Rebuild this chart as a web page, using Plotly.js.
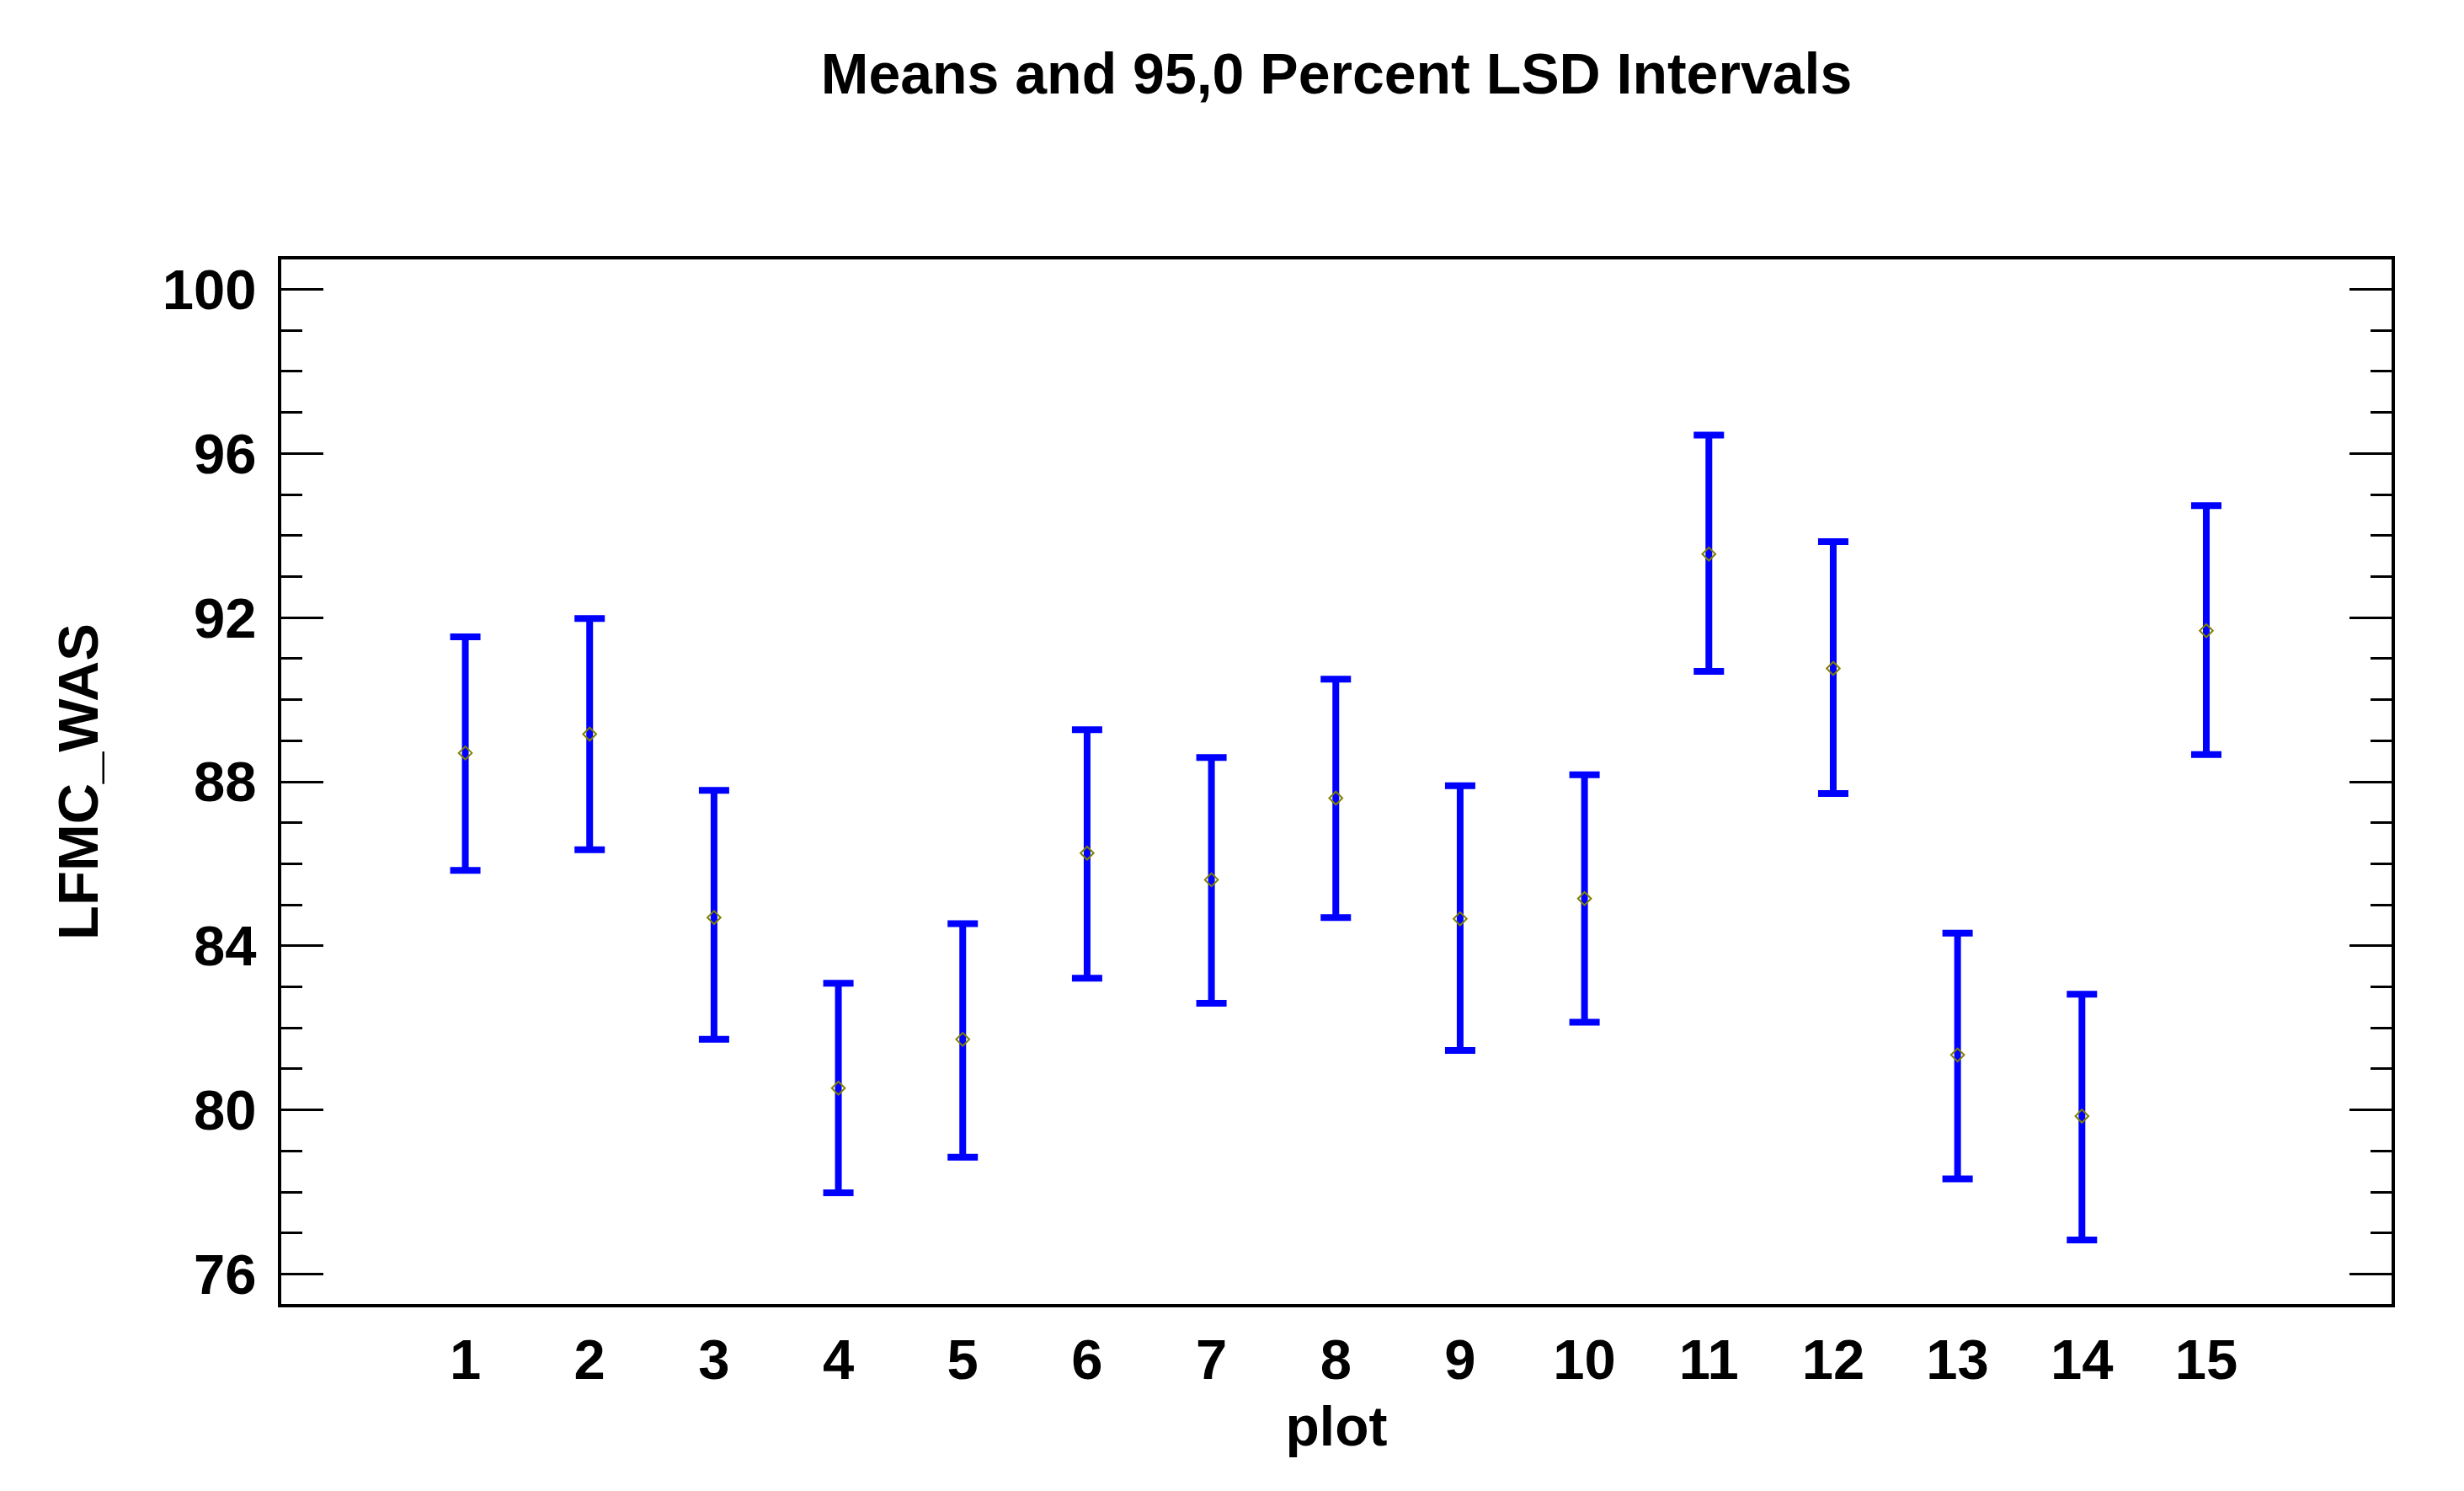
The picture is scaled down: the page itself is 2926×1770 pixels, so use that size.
<!DOCTYPE html>
<html>
<head>
<meta charset="utf-8">
<script src="https://cdn.plot.ly/plotly-3.0.1.min.js"></script>
<style>html,body{margin:0;padding:0;background:#fff;}#chart{width:2926px;height:1770px;}</style>
</head>
<body>
<div id="chart"></div>
<script>
// Data
const plots = [1, 2, 3, 4, 5, 6, 7, 8, 9, 10, 11, 12, 13, 14, 15];
const means = [88.70, 89.16, 84.69, 80.53, 81.72, 86.26, 85.61, 87.60, 84.66, 85.15, 93.55, 90.76, 81.34, 79.85, 91.68];
const upper = [91.53, 91.98, 87.79, 83.09, 84.54, 89.27, 88.59, 90.50, 87.90, 88.17, 96.45, 93.85, 84.31, 82.82, 94.73];
const lower = [85.84, 86.34, 81.72, 77.98, 78.85, 83.21, 82.60, 84.69, 81.45, 82.14, 90.69, 87.71, 78.32, 76.83, 88.66];
const yTicks = [76, 80, 84, 88, 92, 96, 100];

const errPlus = upper.map((u, i) => u - means[i]);
const errMinus = lower.map((l, i) => means[i] - l);

const font = {family: 'Liberation Sans, Arial, sans-serif', color: '#000'};

const trace = {
  x: plots,
  y: means,
  type: 'scatter',
  mode: 'markers',
  marker: {symbol: 'diamond-open', size: 12, color: '#808000', line: {width: 2, color: '#808000'}},
  error_y: {type: 'data', symmetric: false, array: errPlus, arrayminus: errMinus,
            color: '#0000ff', thickness: 8, width: 18},
  showlegend: false,
  hoverinfo: 'x+y'
};

const layout = {
  width: 2926, height: 1770,
  paper_bgcolor: '#fff', plot_bgcolor: '#fff',
  margin: {l: 334, r: 86, t: 308, b: 222},
  title: {text: 'Means and 95,0 Percent LSD Intervals', x: 0.5, xref: 'paper', y: 0.951, yanchor: 'middle',
          font: Object.assign({}, font, {size: 68, weight: 'bold'})},
  xaxis: {
    range: [-0.48, 16.49], tickvals: plots, ticktext: plots.map(String),
    ticks: '', showgrid: false, zeroline: false,
    showline: true, linecolor: '#000', linewidth: 4, mirror: true,
    tickfont: Object.assign({}, font, {size: 67, weight: 'bold'}),
    ticklabelstandoff: 5,
    title: {text: 'plot', standoff: 20, font: Object.assign({}, font, {size: 66, weight: 'bold'})}
  },
  yaxis: {
    range: [75.27, 100.73], tickvals: yTicks, ticktext: yTicks.map(String),
    ticks: 'inside', ticklen: 50, tickwidth: 3, tickcolor: '#000',
    minor: {dtick: 1, tick0: 76, ticks: 'inside', ticklen: 25, tickwidth: 3, tickcolor: '#000', showgrid: false},
    showgrid: false, zeroline: false,
    showline: true, linecolor: '#000', linewidth: 4, mirror: 'ticks',
    tickfont: Object.assign({}, font, {size: 67, weight: 'bold'}),
    ticklabelstandoff: 12,
    title: {text: 'LFMC_WAS', standoff: 55, font: Object.assign({}, font, {size: 67, weight: 'bold'})}
  }
};

Plotly.newPlot('chart', [trace], layout, {staticPlot: true, displayModeBar: false});
</script>
</body>
</html>
